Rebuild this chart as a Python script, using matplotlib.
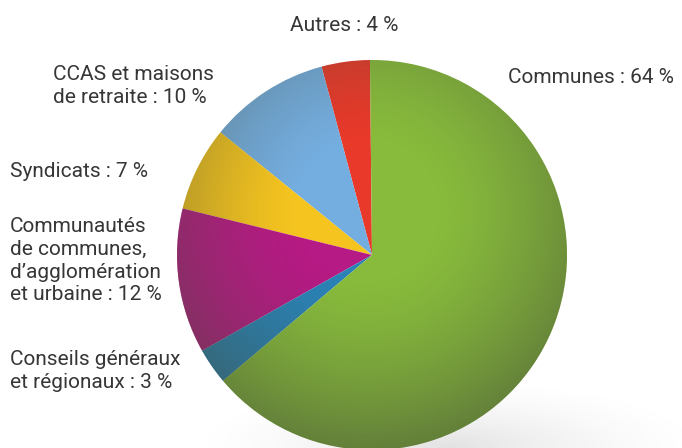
import numpy as np
import matplotlib
matplotlib.use('Agg')
import matplotlib.pyplot as plt
from matplotlib.patches import Circle

# données (part en %)
labels = ['Autres', 'CCAS et maisons de retraite', 'Syndicats',
          'Communautés de communes', 'Conseils généraux et régionaux', 'Communes']
values = [4, 10, 7, 12, 3, 64]
colors = ['#e8392a', '#74addf', '#f5c41f', '#b61a84', '#2a82b6', '#88bb3c']

label_texts = ['Autres : 4 %',
               'CCAS et maisons\nde retraite : 10 %',
               'Syndicats : 7 %',
               'Communautés\nde communes,\nd’agglomération\net urbaine : 12 %',
               'Conseils généraux\net régionaux : 3 %',
               'Communes : 64 %']
label_pos = [(290, 432), (53, 383), (10, 286), (10, 231), (10, 98), (508, 380)]

plt.rcParams['font.family'] = ['Roboto', 'DejaVu Sans']

fig = plt.figure(figsize=(6.82, 4.48), dpi=100)
ax = fig.add_axes([0, 0, 1, 1])

cx, cy, R = 372, 193, 195

# ombre portée légère sous la sphère
gx = np.linspace(0, 682, 300)
gy = np.linspace(0, 120, 80)
GX, GY = np.meshgrid(gx, gy)
sd = np.sqrt(((GX - 450) / 260) ** 2 + ((GY - 0) / 70) ** 2)
sh = np.zeros(GX.shape + (4,))
sh[..., :3] = 0.55
sh[..., 3] = np.clip(1 - sd, 0, 1) ** 1.5 * 0.25
ax.imshow(sh, extent=(0, 682, 0, 120), origin='lower', interpolation='bilinear', zorder=0)

wedges, _ = ax.pie(values, colors=colors, startangle=90.6, counterclock=True,
                   center=(cx, cy), radius=R, frame=True,
                   wedgeprops=dict(linewidth=0, zorder=2))
ax.set_xlim(0, 682)
ax.set_ylim(0, 448)
ax.set_aspect('equal')
ax.axis('off')

# ombrage pour l'effet sphère
xs = np.linspace(cx - R, cx + R, 400)
ys = np.linspace(cy - R, cy + R, 400)
X, Y = np.meshgrid(xs, ys)
d = np.sqrt((X - (cx - 5)) ** 2 + (Y - (cy + 45)) ** 2) / R
alpha = np.clip((d - 0.35) / 0.95, 0, 1) ** 1.4 * 0.6
shade = np.zeros(X.shape + (4,))
shade[..., 0] = 0.27
shade[..., 1] = 0.30
shade[..., 2] = 0.22
shade[..., 3] = alpha
clip = Circle((cx, cy), R, transform=ax.transData, facecolor='none', edgecolor='none')
ax.add_patch(clip)
im = ax.imshow(shade, extent=(cx - R, cx + R, cy - R, cy + R), origin='lower',
               interpolation='bilinear', zorder=3)
im.set_clip_path(clip)
ax.set_xlim(0, 682)
ax.set_ylim(0, 448)

for txt, (x, y) in zip(label_texts, label_pos):
    ax.text(x, y, txt, ha='left', va='top', fontsize=15, color='#363636',
            linespacing=1.25)

fig.savefig('out.png', dpi=100)
